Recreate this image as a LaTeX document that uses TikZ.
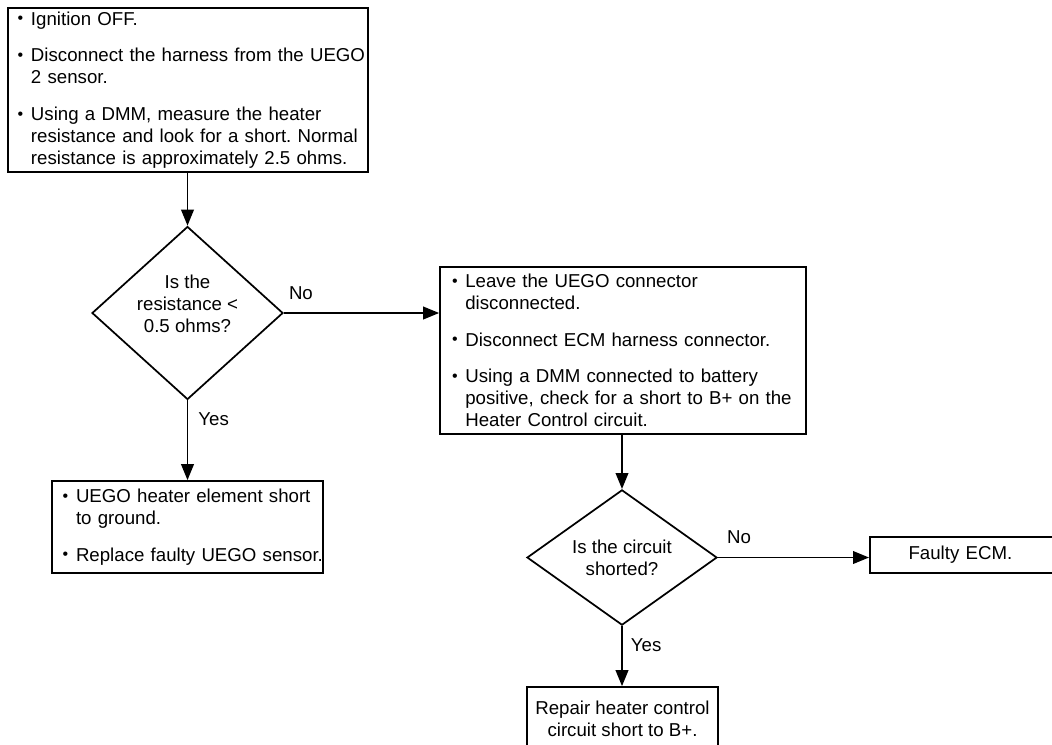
\documentclass[tikz,border=0pt]{standalone}
\usepackage{fontspec}
\setmainfont{Liberation Sans}
\usepackage{tikz}
\usetikzlibrary{arrows.meta,shapes.geometric,positioning}
\frenchspacing
\newcommand{\fitem}[1]{\mbox{\makebox[12pt][l]{\hspace{2pt}\raisebox{1pt}{\fontsize{12pt}{12pt}\selectfont\textbullet}}#1}}
\newcommand{\fcont}[1]{\mbox{\hspace*{12pt}#1}}
\tikzset{
  >={Triangle[length=12pt,width=9.5pt]},
  ftxt/.style={font=\fontsize{14pt}{16.5pt}\selectfont},
  fbox/.style={ftxt, draw=black, line width=1.3pt, fill=white, align=left,
               inner ysep=0pt},
  fdec/.style={diamond, draw=black, line width=1.3pt, inner sep=0pt},
  fdtxt/.style={ftxt, align=center, inner sep=0pt},
  flbl/.style={ftxt, inner sep=2pt},
  fflow/.style={->, line width=1.3pt},
}

\begin{document}
\begin{tikzpicture}[x=0.75pt,y=-0.75pt]
  \useasboundingbox (0,0) rectangle (1052,744);

  % first checks
  \node[fbox, inner xsep=5.25pt, text width=259.5pt, minimum height=123pt] (start) at (188,90)
    {\fitem{Ignition OFF.}\\[11pt]
     \fitem{Disconnect the harness from the UEGO}\\
     \fcont{2 sensor.}\\[11pt]
     \fitem{Using a DMM, measure the heater}\\
     \fcont{resistance and look for a short. Normal}\\
     \fcont{resistance is approximately 2.5 ohms.}};

  % resistance question
  \node[fdec, minimum width=143.25pt, minimum height=129.75pt] (qres) at (187.5,313) {};
  \node[fdtxt] (qrestxt) at ([yshift=7pt]qres.center) {Is the\\resistance <\\0.5 ohms?};

  % short to ground
  \node[fbox, inner xsep=6pt, text width=191.25pt, minimum height=69pt] (ground) at (187.5,527)
    {\fitem{UEGO heater element short}\\
     \fcont{to ground.}\\[11pt]
     \fitem{Replace faulty UEGO sensor.}};

  % B+ check
  \node[fbox, inner xsep=7pt, text width=260.5pt, minimum height=125.25pt] (check) at (623,350.5)
    {\fitem{Leave the UEGO connector}\\
     \fcont{disconnected.}\\[11pt]
     \fitem{Disconnect ECM harness connector.}\\[11pt]
     \fitem{Using a DMM connected to battery}\\
     \fcont{positive, check for a short to B+ on the}\\
     \fcont{Heater Control circuit.}};

  % circuit question
  \node[fdec, ftxt, align=center, minimum width=142.5pt, minimum height=101.25pt] (qsht) at (622,557.5)
    {Is the circuit\\shorted?};

  \node[fbox, anchor=west, inner xsep=29pt, text width=150pt, minimum height=27pt] (ecm) at (869,555)
    {Faulty ECM.};

  \node[fbox, align=center, inner xsep=6pt, minimum width=143.25pt, minimum height=48pt] (repair) at (622.5,719)
    {Repair heater control\\circuit short to B+.};

  % connectors
  \draw[fflow] (qres.north |- start.south) -- (qres.north);
  \draw[fflow] (qres.east) -- node[flbl, pos=0.11, above=7.5pt] {No} (qres.east -| check.west);
  \draw[fflow] (qres.south) -- node[flbl, pos=0.235, right=5.5pt] {Yes} (qres.south |- ground.north);
  \draw[fflow] (qsht.north |- check.south) -- (qsht.north);
  \draw[fflow] (qsht.east) -- node[flbl, pos=0.14, above=7.4pt] {No} (qsht.east -| ecm.west);
  \draw[fflow] (qsht.south) -- node[flbl, pos=0.32, right=4pt] {Yes} (qsht.south |- repair.north);

\end{tikzpicture}
\end{document}
